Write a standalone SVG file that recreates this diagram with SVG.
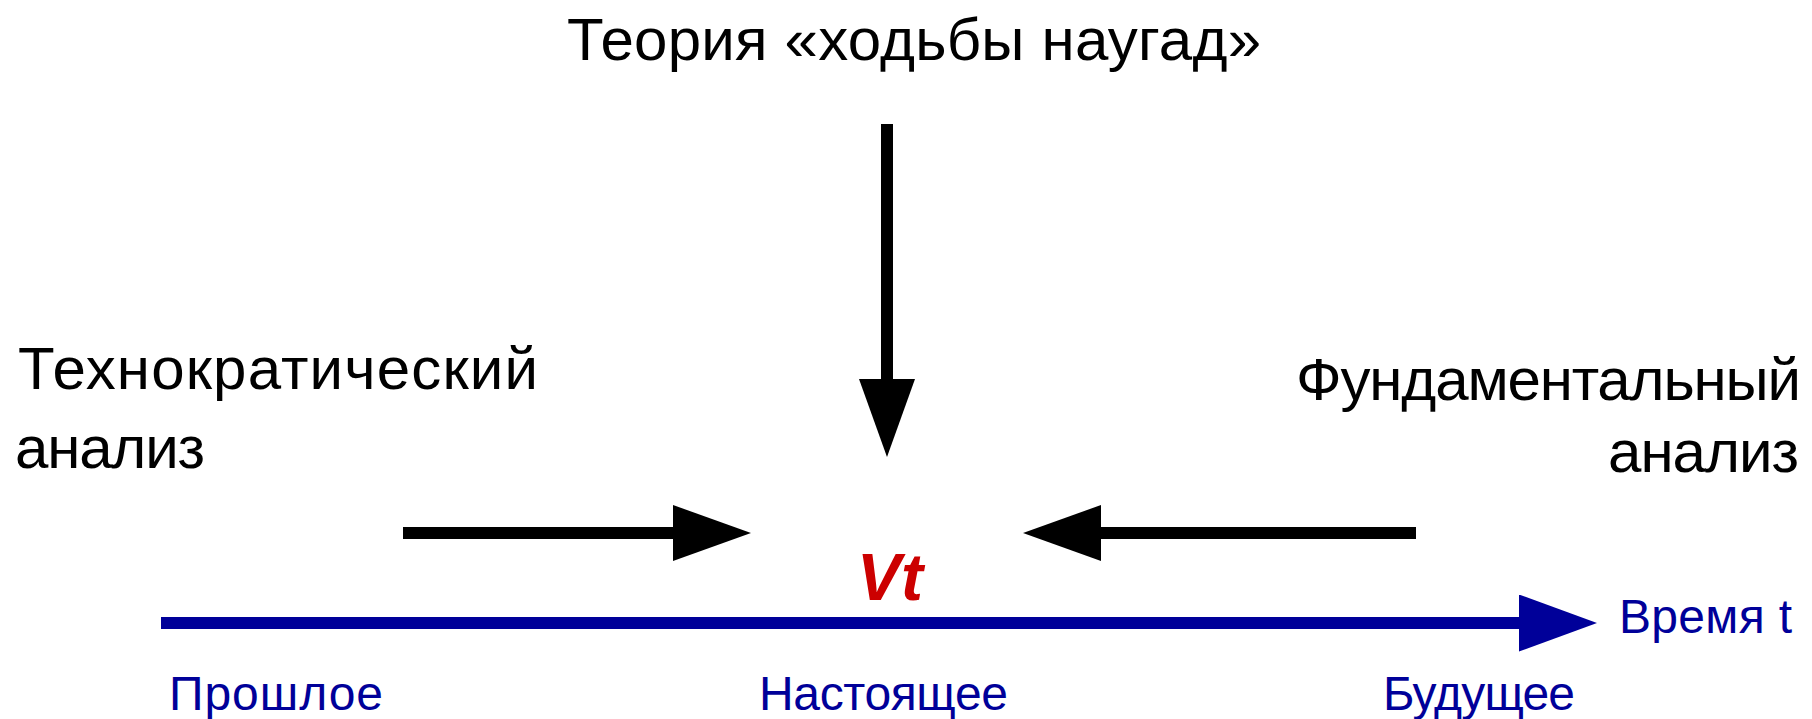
<svg xmlns="http://www.w3.org/2000/svg" width="1812" height="719" viewBox="0 0 1812 719">
  <style>
    .lbl { font-family: "Liberation Sans", "DejaVu Sans", Arial, sans-serif; fill: #000000; font-size: 60px; }
    .time { font-family: "Liberation Sans", "DejaVu Sans", Arial, sans-serif; fill: #000099; font-size: 48px; }
    .vt { font-family: "Liberation Sans", "DejaVu Sans", Arial, sans-serif; fill: #CC0000; font-size: 66px; font-weight: bold; font-style: italic; }
    .blk { stroke: #000000; stroke-width: 12; fill: none; }
    .axis { stroke: #000099; stroke-width: 12; fill: none; }
  </style>
  <defs>
    <marker id="headBlack" markerUnits="userSpaceOnUse" markerWidth="78" markerHeight="56" refX="0" refY="28" orient="auto" viewBox="0 0 78 56">
      <path d="M0,0 L78,28 L0,56 Z" fill="#000000"/>
    </marker>
    <marker id="headBlue" markerUnits="userSpaceOnUse" markerWidth="78" markerHeight="57" refX="0" refY="28.5" orient="auto" viewBox="0 0 78 57">
      <path d="M0,0 L78,28.5 L0,57 Z" fill="#000099"/>
    </marker>
  </defs>
  <rect x="0" y="0" width="1812" height="719" fill="#ffffff"/>

  <g id="connectors">
    <line id="arrow-random-walk" class="blk" x1="887" y1="124" x2="887" y2="379" marker-end="url(#headBlack)"/>
    <line id="arrow-technical" class="blk" x1="403" y1="533" x2="673" y2="533" marker-end="url(#headBlack)"/>
    <line id="arrow-fundamental" class="blk" x1="1416" y1="533" x2="1101" y2="533" marker-end="url(#headBlack)"/>
    <line id="time-axis" class="axis" x1="161" y1="623" x2="1519" y2="623" marker-end="url(#headBlue)"/>
  </g>

  <g id="node-random-walk">
    <text class="lbl" x="567" y="60" font-size="58" textLength="694">Теория «ходьбы наугад»</text>
  </g>
  <g id="node-technical">
    <text class="lbl" x="18" y="389" textLength="520">Технократический</text>
    <text class="lbl" x="15" y="468" textLength="190">анализ</text>
  </g>
  <g id="node-fundamental">
    <text class="lbl" x="1296" y="400" textLength="505">Фундаментальный</text>
    <text class="lbl" x="1608" y="472" textLength="191">анализ</text>
  </g>
  <g id="node-vt">
    <text class="vt" x="857" y="600" textLength="66">Vt</text>
  </g>
  <g id="node-time">
    <text class="time" x="1619" y="633" textLength="173">Время t</text>
  </g>
  <g id="node-past">
    <text class="time" x="169" y="710" textLength="214">Прошлое</text>
  </g>
  <g id="node-present">
    <text class="time" x="759" y="710" textLength="249">Настоящее</text>
  </g>
  <g id="node-future">
    <text class="time" x="1383" y="710" textLength="192">Будущее</text>
  </g>
</svg>
